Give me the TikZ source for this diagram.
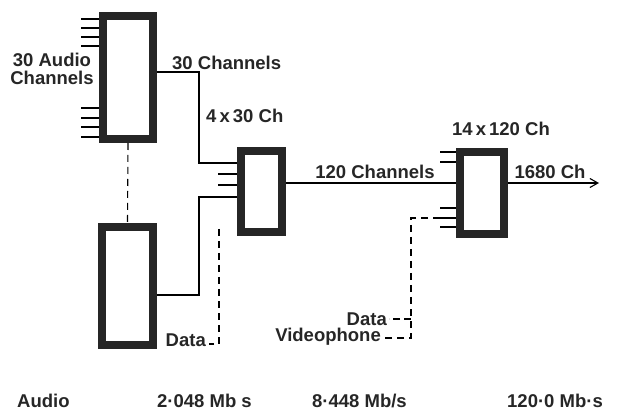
\documentclass[tikz,border=0pt]{standalone}
\usepackage{fontspec}
\setmainfont{Liberation Sans}
\usetikzlibrary{arrows.meta}
\begin{document}
\begin{tikzpicture}[x=1pt,y=-1pt,
  muxbox/.style={draw=black!85,line width=8pt,inner sep=0pt,fill=none},
  wire/.style={draw=black,line width=1.1pt},
  dwire/.style={draw=black,line width=1.1pt,dash pattern=on 7pt off 5pt},
  lbl/.style={font=\fontsize{18.5}{18}\selectfont\bfseries,inner sep=0pt,text=black!85}]
\useasboundingbox (0,0) rectangle (623,411);
% boxes
\node[muxbox,minimum width=50pt,minimum height=123pt] (b1) at (128,77.5) {};
\node[muxbox,minimum width=51pt,minimum height=118pt] (b3) at (127.5,286) {};
\node[muxbox,minimum width=41pt,minimum height=81pt] (b2) at (261.5,191.5) {};
\node[muxbox,minimum width=44pt,minimum height=82pt] (b4) at (482,193) {};
% stubs box1
\foreach \y in {19,28,37,46,108,118,127,137}
  \draw[wire] (81,\y) coordinate (s\y) -- (s\y -| b1.west);
% stubs box2
\foreach \y in {174,185}
  \draw[wire] (218,\y) coordinate (t\y) -- (t\y -| b2.west);
% stubs box4
\foreach \y in {152,162,208,218,227}
  \draw[wire] (440,\y) coordinate (u\y) -- (u\y -| b4.west);
% connectors
\coordinate (k1) at (199,72);
\coordinate (k2) at (199,163);
\draw[wire] (k1 -| b1.east) -- (k1) -- (k2) -- (k2 -| b2.west);
\coordinate (k3) at (199,295);
\coordinate (k4) at (199,197);
\draw[wire] (k3 -| b3.east) -- (k3) -- (k4) -- (k4 -| b2.west);
\draw[dwire] (b1.south) -- (b3.north);
\coordinate (m1) at (0,183);
\draw[wire] (m1 -| b2.east) -- (m1 -| b4.west);
\coordinate (arr) at (599,183);
\draw[wire,-{Straight Barb[length=8pt,width=9pt]}] (m1 -| b4.east) -- (arr);
% data dashed to box2
\coordinate (d1) at (219,229);
\coordinate (d2) at (219,344);
\coordinate (d3) at (209,344);
\draw[dwire] (d1) -- (d2) -- (d3);
% box4 dashed
\coordinate (e1) at (411,218);
\coordinate (e2) at (411,338);
\coordinate (e3) at (383,338);
\coordinate (e4) at (411,319);
\coordinate (e5) at (389,319);
\draw[dwire] (u218) -- (e1) -- (e2) -- (e3);
\draw[wire,dash pattern=on 7pt off 4pt] (e4) -- (e5);
% labels
\node[lbl,align=center] (la) at (52,69) {30 Audio\\Channels};
\node[lbl,anchor=west] (lc) at (172,63) {30 Channels};
\node[lbl,anchor=west] (ld) at (206,116) {4\,x\,30 Ch};
\node[lbl] (le) at (375,172) {120 Channels};
\node[lbl] (lf) at (501,129) {14\,x\,120 Ch};
\node[lbl] (lg) at (550,172) {1680 Ch};
\node[lbl,anchor=east] (lh) at (206,340) {Data};
\node[lbl,anchor=east] (li) at (387,319) {Data};
\node[lbl,anchor=east] (lj) at (381,337) {Videophone};
\node[lbl,anchor=base west] (lk) at (17,407) {Audio};
\node[lbl,anchor=base west] (ll) at (157,407) {2·048 Mb s};
\node[lbl,anchor=base west] (lm) at (312,407) {8·448 Mb/s};
\node[lbl,anchor=base west] (ln) at (507,407) {120·0 Mb·s};
\end{tikzpicture}
\end{document}
